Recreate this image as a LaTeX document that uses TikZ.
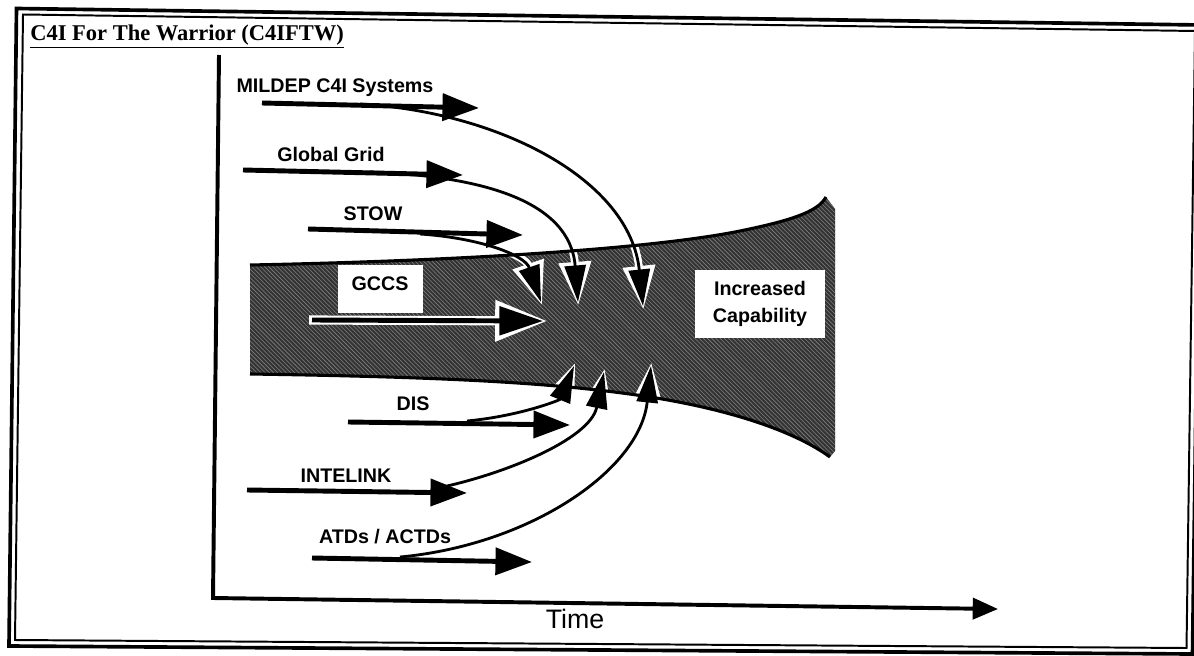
\documentclass[tikz,border=0pt]{standalone}
\usepackage{fontspec}
\setmainfont{Liberation Serif}
\setsansfont{Liberation Sans}
\usetikzlibrary{arrows.meta,patterns}
\begin{document}
\begin{tikzpicture}[x=0.025cm,y=-0.025cm,
  lbl/.style={font=\sffamily\bfseries\fontsize{14}{16}\selectfont, inner sep=0pt, anchor=base},
  bigarrow/.style={draw=black, line width=3.5pt, -{Triangle[length=26pt,width=19pt]}},
  curvehalo/.style={draw=white, line width=5.5pt, shorten >=-2.5pt, -{Triangle[length=31pt,width=22pt]}},
  curvearrow/.style={draw=black, line width=2pt, -{Triangle[length=26pt,width=15pt]}},
  gccshalo/.style={draw=white, line width=6.5pt, shorten >=-3pt, shorten <=-2pt, -{Triangle[length=37pt,width=28pt]}},
  gccsarrow/.style={draw=black, line width=3.5pt, -{Triangle[length=31pt,width=20pt]}},
  frameout/.style={draw=black, line width=2.6pt, line join=miter},
  framein/.style={draw=black, line width=1.4pt, line join=miter},
  funnel/.style={fill=black!80, postaction={pattern=north west lines, pattern color=black!50}},
  funneledge/.style={draw=black, line width=2.2pt},
  whitebox/.style={fill=white, inner sep=0pt},
  axis/.style={draw=black, line width=2.8pt, line join=miter, -{Triangle[length=18pt,width=15pt]}}
]
\useasboundingbox (0,0) rectangle (1194,656);
\fill[white] (0,0) rectangle (1194,656);

% page frame
\draw[frameout] (16.5,8.5) -- (1201,25) -- (1192.5,654) -- (9,646) -- cycle;
\draw[framein] (23,14.5) -- (1195,31) -- (1186.5,648) -- (15,640) -- cycle;

% title
\node[anchor=base west, inner sep=0pt, font=\bfseries\fontsize{16}{18}\selectfont] (title) at (30,41) {\underline{C4I For The Warrior (C4IFTW)}};

% axes
\coordinate (ytop) at (219,55);
\coordinate (origin) at (213,598);
\coordinate (xend) at (998,609);
\draw[axis] (ytop) -- (origin) -- (xend);
\node[anchor=base, inner sep=0pt, font=\sffamily\fontsize{19}{22}\selectfont] (time) at (575,628) {Time};

% funnel
\path[funnel] (250,265) .. controls (450,261) and (640,250) .. (735,232) .. controls (790,221) and (818,212) .. (826,197) -- (835,209) -- (835,451) -- (830,457) .. controls (790,428) and (720,408) .. (650,397) .. controls (560,383) and (450,377) .. (250,374) -- cycle;

% white boxes
\node[whitebox, minimum width=2.125cm, minimum height=1.2cm, anchor=north west] (gccsbox) at (338,265) {};
\node[lbl] (gccs) at (380,290) {GCCS};
\node[whitebox, minimum width=3.25cm, minimum height=1.7cm, align=center, font=\sffamily\bfseries\fontsize{14}{19}\selectfont] (cap) at (760,304) {Increased\\Capability};

% coordinates of straight arrows
\coordinate (gc0) at (312,320);   \coordinate (gc1) at (543,321);
\coordinate (mil0) at (262,103);  \coordinate (mil1) at (479,108);
\coordinate (glo0) at (243,170);  \coordinate (glo1) at (463,175);
\coordinate (sto0) at (308,229);  \coordinate (sto1) at (523,235);
\coordinate (dis0) at (348,422);  \coordinate (dis1) at (570,425);
\coordinate (int0) at (247,490);  \coordinate (int1) at (467,493);
\coordinate (atd0) at (312,558);  \coordinate (atd1) at (532,562);

% coordinates of curved arrows
\coordinate (milc0) at (360,104); \coordinate (milc1) at (643,306);
\coordinate (gloc0) at (370,172); \coordinate (gloc1) at (578,302);
\coordinate (stoc0) at (420,234); \coordinate (stoc1) at (541,302);
\coordinate (disc0) at (467,421); \coordinate (disc1) at (574,366);
\coordinate (intc0) at (433,489); \coordinate (intc1) at (604,372);
\coordinate (atdc0) at (400,557); \coordinate (atdc1) at (651,366);

\def\curvelist{milc0/{500,112}/{630,180}/milc1, gloc0/{480,176}/{570,200}/gloc1, stoc0/{480,238}/{525,255}/stoc1, disc0/{520,416}/{560,400}/disc1, intc0/{500,476}/{590,440}/intc1, atdc0/{530,545}/{640,470}/atdc1}

% white halos, only inside the funnel
\begin{scope}
\clip (250,265) .. controls (450,261) and (640,250) .. (735,232) .. controls (790,221) and (818,212) .. (826,197) -- (835,209) -- (835,451) -- (830,457) .. controls (790,428) and (720,408) .. (650,397) .. controls (560,383) and (450,377) .. (250,374) -- cycle;
\draw[gccshalo] (gc0) -- (gc1);
\foreach \s/\p/\q/\e in \curvelist {\draw[curvehalo] (\s) .. controls (\p) and (\q) .. (\e);}
\end{scope}

% GCCS arrow and curved arrows
\draw[gccsarrow] (gc0) -- (gc1);
\foreach \s/\p/\q/\e in \curvelist {\draw[curvearrow] (\s) .. controls (\p) and (\q) .. (\e);}

% funnel edges
\draw[funneledge] (250,265) .. controls (450,261) and (640,250) .. (735,232) .. controls (790,221) and (818,212) .. (826,197);
\draw[funneledge] (250,374) .. controls (450,377) and (560,383) .. (650,397) .. controls (720,408) and (790,428) .. (830,457);

% straight arrows
\draw[bigarrow] (mil0) -- (mil1);
\draw[bigarrow] (glo0) -- (glo1);
\draw[bigarrow] (sto0) -- (sto1);
\draw[bigarrow] (dis0) -- (dis1);
\draw[bigarrow] (int0) -- (int1);
\draw[bigarrow] (atd0) -- (atd1);

% labels
\node[lbl] (mil) at (335,93) {MILDEP C4I Systems};
\node[lbl] (glo) at (331,162) {Global Grid};
\node[lbl] (sto) at (373,220) {STOW};
\node[lbl] (dis) at (413,410) {DIS};
\node[lbl] (int) at (346,482) {INTELINK};
\node[lbl] (atd) at (385,543) {ATDs / ACTDs};
\end{tikzpicture}
\end{document}
